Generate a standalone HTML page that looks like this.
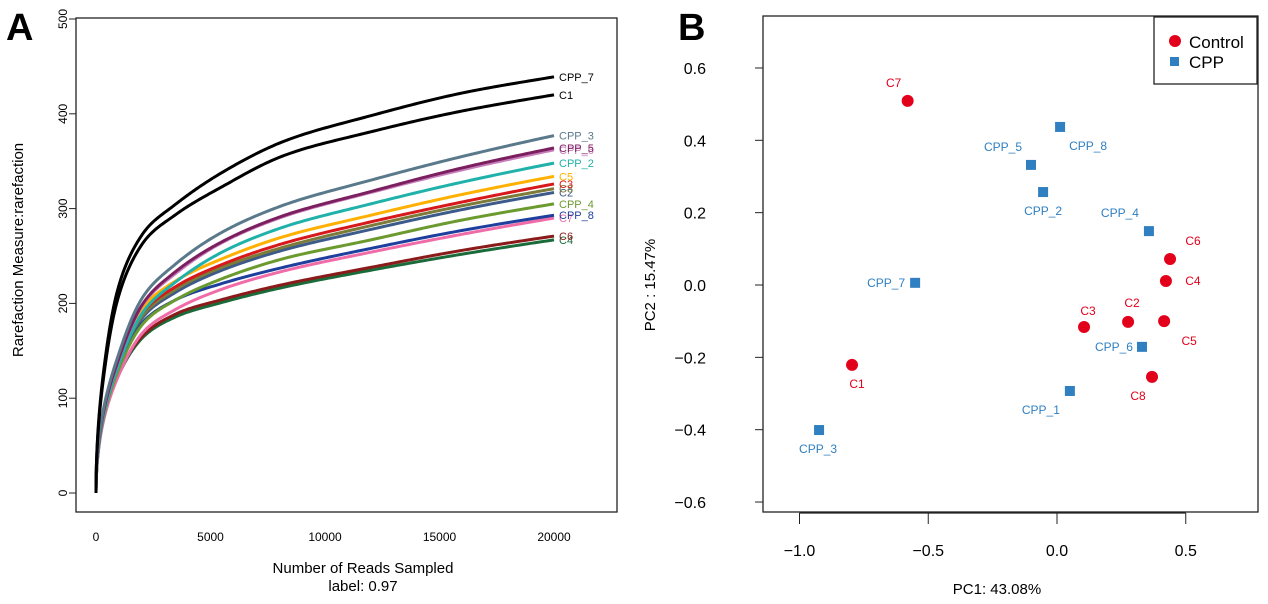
<!DOCTYPE html>
<html><head><meta charset="utf-8"><style>
html,body{margin:0;padding:0;background:#fff;}
svg{display:block;font-family:"Liberation Sans",sans-serif;}
</style></head><body>
<svg id="fig" width="1268" height="604" viewBox="0 0 1268 604" xmlns="http://www.w3.org/2000/svg">
<text x="6" y="40" font-size="38" font-weight="bold">A</text>
<text x="678" y="40" font-size="38" font-weight="bold">B</text>
<g id="pa"></g>
<g id="pb"></g>
</svg>
<script>
const NS="http://www.w3.org/2000/svg";
// ---- Panel A data ----
const readsSampled=[0,300,900,2000,3500,5500,8000,12000,16000,20000];
const seriesNames=["C4","C6","C7","CPP_8","CPP_4","C2","C8","C3","C5","CPP_2","CPP_6","CPP_5","CPP_3","C1","CPP_7"];
const seriesColors=["#1a6b3a","#8b1a1a","#f06ca8","#1f3f9f","#6b9a2f","#3c5a8a","#7b7b3a","#d7191c","#ffb000","#20b2aa","#c77dbb","#7b1f5e","#5a7a8c","#000000","#000000"];
const s_C4=[0,75,120,163,186,201,216,235,252,267];
const s_C6=[0,76,122,165,189,204,219,238,256,271];
const s_C7=[0,73,119,168,194,215,233,254,273,290];
const s_CPP_8=[0,82,132,179,204,221,237,258,277,293];
const s_CPP_4=[0,76,125,177,204,226,246,267,288,305];
const s_C2=[0,79,130,184,212,235,255,278,299,317];
const s_C8=[0,80,132,186,215,238,258,282,303,321];
const s_C3=[0,82,134,189,218,241,262,286,307,326];
const s_C5=[0,84,137,194,224,247,269,293,315,334];
const s_CPP_2=[0,78,129,189,223,254,279,305,328,348];
const s_CPP_6=[0,81,134,197,232,264,290,317,341,362];
const s_CPP_5=[0,82,135,198,234,265,291,318,343,364];
const s_CPP_3=[0,85,140,205,242,275,302,330,355,377];
const s_C1=[0,116,200,262,294,323,354,381,403,420];
const s_CPP_7=[0,122,210,272,305,338,369,398,422,439];
const seriesValues=[s_C4,s_C6,s_C7,s_CPP_8,s_CPP_4,s_C2,s_C8,s_C3,s_C5,s_CPP_2,s_CPP_6,s_CPP_5,s_CPP_3,s_C1,s_CPP_7];
const xTicksA=[0,5000,10000,15000,20000];
const yTicksA=[0,100,200,300,400,500];
// ---- Panel B data ----
const pcaNames=["C7","C6","C4","C5","C2","C3","C8","C1","CPP_8","CPP_5","CPP_2","CPP_4","CPP_7","CPP_6","CPP_1","CPP_3"];
const pcaGroup=["Control","Control","Control","Control","Control","Control","Control","Control","CPP","CPP","CPP","CPP","CPP","CPP","CPP","CPP"];
const pc1=[-0.58,0.439,0.423,0.416,0.276,0.105,0.369,-0.796,0.012,-0.101,-0.054,0.357,-0.551,0.33,0.05,-0.924];
const pc2=[0.509,0.072,0.011,-0.10,-0.102,-0.116,-0.254,-0.221,0.437,0.332,0.257,0.149,0.006,-0.171,-0.293,-0.401];
const xTicksB=[-1.0,-0.5,0.0,0.5];
const yTicksB=[0.6,0.4,0.2,0.0,-0.2,-0.4,-0.6];
const labelDx=[-14,23,27,25,4,4,-14,5,28,-28,0,-29,-29,-28,-29,-1];
const labelDy=[-18,-18,0,20,-19,-16,19,19,19,-18,19,-18,0,0,19,19];

function el(tag,attrs,parent,text){const e=document.createElementNS(NS,tag);for(const k in attrs)e.setAttribute(k,attrs[k]);if(text!==undefined)e.textContent=text;parent.appendChild(e);return e;}
const pa=document.getElementById('pa'), pb=document.getElementById('pb');
const xA=v=>96+v*(554-96)/20000, yA=v=>493-v*0.948;
let a=el('rect',{x:76,y:18,width:541,height:494,fill:'none',stroke:'#222','stroke-width':1.3},pa);


yTicksA.forEach(t=>{el('line',{x1:69,x2:76,y1:yA(t),y2:yA(t),stroke:'#222'},pa);
 const tx=el('text',{x:0,y:0,transform:`translate(67,${yA(t)}) rotate(-90)`,'text-anchor':'middle','font-size':12},pa,t);
 
 });
xTicksA.forEach(t=>{const tx=el('text',{x:xA(t),y:541,'text-anchor':'middle','font-size':12},pa,t);
 
 });
let t1=el('text',{x:363,y:573,'text-anchor':'middle','font-size':15},pa,'Number of Reads Sampled');


let t2=el('text',{x:363,y:591,'text-anchor':'middle','font-size':15},pa,'label: 0.97');


let t3=el('text',{x:0,y:0,transform:'translate(23,250) rotate(-90)','text-anchor':'middle','font-size':15},pa,'Rarefaction Measure:rarefaction');


// smooth interpolation in sqrt(reads) space
function smoothPath(xs,ys){
 const us=xs.map(Math.sqrt);
 const n=us.length,d=[],m=new Array(n);
 for(let i=0;i<n-1;i++)d.push((ys[i+1]-ys[i])/(us[i+1]-us[i]));
 m[0]=d[0];m[n-1]=d[n-2];
 for(let i=1;i<n-1;i++){const h0=us[i]-us[i-1],h1=us[i+1]-us[i];m[i]=(d[i-1]*h1+d[i]*h0)/(h0+h1);}
 let p=`M${xA(xs[0])},${yA(ys[0])}`;
 for(let i=0;i<n-1;i++){const h=us[i+1]-us[i];
  for(let k=1;k<=30;k++){const t=k/30,t2=t*t,t3=t2*t;
   const v=(2*t3-3*t2+1)*ys[i]+(t3-2*t2+t)*h*m[i]+(-2*t3+3*t2)*ys[i+1]+(t3-t2)*h*m[i+1];
   const u=us[i]+t*h;
   p+=` L${xA(u*u).toFixed(2)},${yA(v).toFixed(2)}`;}}
 return p;}
seriesValues.forEach((vals,i)=>{
 const p=el('path',{d:smoothPath(readsSampled,vals),fill:'none',stroke:seriesColors[i],'stroke-width':3,'stroke-linejoin':'round'},pa);
 
 
 const lb=el('text',{x:559,y:yA(vals[vals.length-1])+4,'font-size':11,fill:seriesColors[i]},pa,seriesNames[i]);
 
 
});
// ---- Panel B ----
const xB=v=>1057+v*257.5, yB=v=>285-v*361.7;
let fr=el('rect',{x:763,y:16,width:495,height:496,fill:'none',stroke:'#222','stroke-width':1.3},pb);


yTicksB.forEach(t=>{el('line',{x1:755,x2:763,y1:yB(t),y2:yB(t),stroke:'#222'},pb);
 const tx=el('text',{x:706,y:yB(t)+6,'text-anchor':'end','font-size':16},pb,(t<0?'\u2212':'')+Math.abs(t).toFixed(1));
 
 });
el('line',{x1:xB(-1),x2:xB(0.5),y1:513,y2:513,stroke:'#222','stroke-width':1.3},pb);
xTicksB.forEach(t=>{el('line',{x1:xB(t),x2:xB(t),y1:513,y2:524,stroke:'#222'},pb);
 const tx=el('text',{x:xB(t),y:556,'text-anchor':'middle','font-size':16},pb,(t<0?'\u2212':'')+Math.abs(t).toFixed(1));
 
 });
let t4=el('text',{x:997,y:594,'text-anchor':'middle','font-size':15},pb,'PC1: 43.08%');


let t5=el('text',{x:0,y:0,transform:'translate(655,285) rotate(-90)','text-anchor':'middle','font-size':15},pb,'PC2 : 15.47%');


pc1.forEach((v,i)=>{
 const cx=xB(v),cy=yB(pc2[i]);const ctrl=pcaGroup[i]==='Control';const col=ctrl?'#e3001b':'#2f7fc1';
 let m=ctrl?el('circle',{cx,cy,r:6,fill:col},pb):el('rect',{x:cx-5,y:cy-5,width:10,height:10,fill:col},pb);
 
 
 const lb=el('text',{x:cx+labelDx[i],y:cy+labelDy[i]+4,'text-anchor':'middle','font-size':12,fill:col},pb,pcaNames[i]);
 
 
});
const lg=el('g',{},pb);


el('rect',{x:1154,y:17,width:103,height:67,fill:'#fff',stroke:'#222','stroke-width':1.3},lg);
el('circle',{cx:1175,cy:41,r:6,fill:'#e3001b'},lg);
el('rect',{x:1170,y:57,width:9,height:9,fill:'#2f7fc1'},lg);
let l1=el('text',{x:1189,y:48,'font-size':17},lg,'Control');


let l2=el('text',{x:1189,y:68,'font-size':17},lg,'CPP');


</script>
</body></html>
